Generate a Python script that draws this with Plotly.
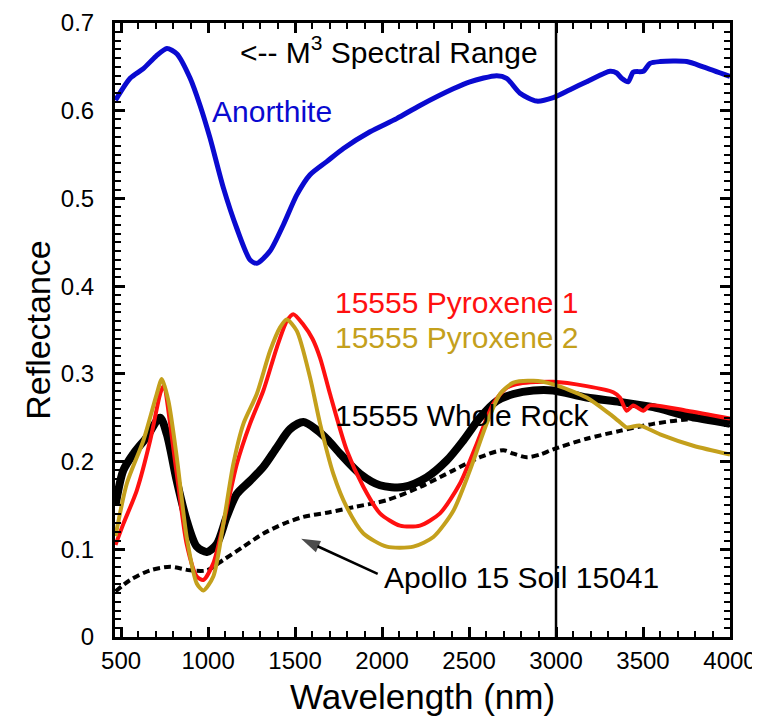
import plotly.graph_objects as go

# ---------------- data ----------------
anorthite_wl = [468, 552, 628, 700, 763, 820, 897, 954, 1011, 1088, 1165, 1241, 1280, 1356,
                1433, 1510, 1586, 1682, 1778, 1931, 2084, 2218, 2409, 2505, 2659, 2716, 2793,
                2889, 2984, 3080, 3176, 3310, 3349, 3377, 3415, 3444, 3502, 3540, 3598, 3751,
                3846, 4000]
anorthite_r = [0.612, 0.637, 0.648, 0.662, 0.671, 0.665, 0.637, 0.606, 0.569, 0.512, 0.466,
               0.430, 0.426, 0.440, 0.470, 0.504, 0.527, 0.542, 0.557, 0.576, 0.591, 0.606,
               0.625, 0.633, 0.640, 0.637, 0.620, 0.611, 0.615, 0.624, 0.633, 0.645, 0.643,
               0.637, 0.633, 0.644, 0.645, 0.654, 0.656, 0.656, 0.650, 0.639]

pyx1_wl = [468, 513, 590, 667, 724, 743, 820, 877, 935, 973, 1030, 1088, 1165, 1241, 1318,
           1395, 1452, 1490, 1548, 1600, 1644, 1701, 1797, 1893, 1988, 2103, 2218, 2333, 2448,
           2544, 2639, 2716, 2793, 2984, 3176, 3329, 3367, 3406, 3444, 3502, 3540, 3751, 4000]
pyx1_r = [0.105, 0.129, 0.167, 0.224, 0.277, 0.286, 0.186, 0.106, 0.069, 0.065, 0.084, 0.129,
          0.197, 0.243, 0.281, 0.330, 0.360, 0.368, 0.356, 0.340, 0.318, 0.277, 0.213, 0.171,
          0.141, 0.127, 0.127, 0.141, 0.175, 0.220, 0.266, 0.284, 0.289, 0.291, 0.286, 0.279,
          0.273, 0.258, 0.264, 0.258, 0.264, 0.258, 0.249]

pyx2_wl = [468, 533, 628, 705, 734, 772, 820, 877, 935, 973, 1030, 1088, 1145, 1203, 1280,
           1356, 1414, 1452, 1510, 1586, 1644, 1720, 1797, 1893, 2027, 2180, 2295, 2410,
           2505, 2601, 2678, 2755, 2870, 2984, 3176, 3310, 3367, 3406, 3483, 3598, 3789, 4000]
pyx2_r = [0.115, 0.175, 0.224, 0.277, 0.294, 0.269, 0.205, 0.114, 0.061, 0.053, 0.069, 0.129,
          0.197, 0.243, 0.277, 0.326, 0.353, 0.362, 0.349, 0.296, 0.243, 0.186, 0.148, 0.118,
          0.103, 0.103, 0.114, 0.144, 0.190, 0.243, 0.277, 0.290, 0.292, 0.288, 0.273, 0.254,
          0.245, 0.239, 0.241, 0.231, 0.218, 0.208]

rock_wl = [468, 513, 571, 648, 724, 763, 820, 877, 935, 993, 1050, 1107, 1165, 1241, 1318,
           1395, 1471, 1548, 1625, 1692, 1759, 1874, 1988, 2122, 2256, 2371, 2467, 2563,
           2659, 2755, 2870, 2984, 3176, 3367, 3559, 3751, 4000]
rock_r = [0.150, 0.190, 0.209, 0.228, 0.250, 0.231, 0.178, 0.133, 0.103, 0.097, 0.106, 0.137,
          0.163, 0.178, 0.194, 0.216, 0.237, 0.245, 0.236, 0.224, 0.209, 0.186, 0.173, 0.171,
          0.182, 0.201, 0.224, 0.250, 0.269, 0.277, 0.281, 0.281, 0.273, 0.268, 0.262, 0.252,
          0.243]

soil_wl = [468, 552, 667, 782, 897, 993, 1088, 1203, 1318, 1433, 1548, 1692, 1835, 2027,
           2218, 2410, 2563, 2697, 2755, 2831, 2908, 2984, 3176, 3367, 3559, 3751, 4000]
soil_r = [0.052, 0.065, 0.076, 0.080, 0.076, 0.076, 0.088, 0.103, 0.118, 0.129, 0.137, 0.142,
          0.148, 0.156, 0.171, 0.190, 0.205, 0.213, 0.209, 0.205, 0.208, 0.214, 0.226, 0.235,
          0.243, 0.248, 0.248]

# pointer from the soil label to the soil spectrum (tail, head)
soil_arrow_wl = [1975, 1535]
soil_arrow_r = [0.072, 0.112]

m3_limit = 3000
x_range = [465, 4000]
y_range = [0, 0.7]

BLUE = "#0a0ad0"
RED = "#ff1010"
GOLD = "#c4a01c"
FONT = "Arial, Liberation Sans, sans-serif"
ANN = 30

fig = go.Figure()

fig.add_trace(go.Scatter(x=soil_wl, y=soil_r, mode="lines",
                         line=dict(color="black", width=4, dash="7px,4px", shape="spline", smoothing=0.8)))
fig.add_trace(go.Scatter(x=rock_wl, y=rock_r, mode="lines",
                         line=dict(color="black", width=8, shape="spline", smoothing=0.8)))
fig.add_trace(go.Scatter(x=pyx1_wl, y=pyx1_r, mode="lines",
                         line=dict(color=RED, width=4, shape="spline", smoothing=0.7)))
fig.add_trace(go.Scatter(x=pyx2_wl, y=pyx2_r, mode="lines",
                         line=dict(color=GOLD, width=4, shape="spline", smoothing=0.7)))
fig.add_trace(go.Scatter(x=anorthite_wl, y=anorthite_r, mode="lines",
                         line=dict(color=BLUE, width=5, shape="spline", smoothing=0.7)))
# arrow
fig.add_trace(go.Scatter(x=soil_arrow_wl, y=soil_arrow_r, mode="lines+markers",
                         line=dict(color="black", width=2.5),
                         marker=dict(symbol="arrow", angleref="previous", size=[0, 20],
                                     color="black", line=dict(width=0))))

# M3 spectral range boundary
fig.add_shape(type="line", x0=m3_limit, x1=m3_limit, y0=y_range[0], y1=y_range[1],
              xref="x", yref="y", line=dict(color="black", width=2.5))

fig.add_annotation(x=1172, y=0.669, text="<-- M<sup>3</sup> Spectral Range", showarrow=False,
                   xanchor="left", font=dict(family=FONT, size=ANN, color="black"))
fig.add_annotation(x=1011, y=0.599, text="Anorthite", showarrow=False, xanchor="left",
                   font=dict(family=FONT, size=ANN, color=BLUE))
fig.add_annotation(x=1718, y=0.381, text="15555 Pyroxene 1", showarrow=False, xanchor="left",
                   font=dict(family=FONT, size=ANN, color=RED))
fig.add_annotation(x=1718, y=0.341, text="15555 Pyroxene 2", showarrow=False, xanchor="left",
                   font=dict(family=FONT, size=ANN, color=GOLD))
fig.add_annotation(x=1718, y=0.253, text="15555 Whole Rock", showarrow=False, xanchor="left",
                   font=dict(family=FONT, size=ANN, color="black"))
fig.add_annotation(x=2000, y=0.068, text="Apollo 15 Soil 15041", showarrow=False, xanchor="left",
                   font=dict(family=FONT, size=ANN, color="black"))

axis_common = dict(showline=True, linecolor="black", linewidth=3, mirror="allticks",
                   ticks="inside", tickcolor="black", tickwidth=3, ticklen=10,
                   showgrid=False, zeroline=False, automargin=False,
                   tickfont=dict(family=FONT, size=24, color="black"))

fig.update_xaxes(range=x_range, tick0=500, dtick=500,
                 title=dict(text="Wavelength (nm)", font=dict(family=FONT, size=35, color="black"),
                            standoff=12),
                 minor=dict(ticks="inside", dtick=100, tick0=500, ticklen=6, tickwidth=2,
                            tickcolor="black"),
                 **axis_common)
fig.update_yaxes(range=y_range, tick0=0, dtick=0.1, ticklabelstandoff=13,
                 title=dict(text="Reflectance", font=dict(family=FONT, size=34, color="black"),
                            standoff=0),
                 minor=dict(ticks="inside", dtick=0.01, ticklen=6, tickwidth=2,
                            tickcolor="black"),
                 **axis_common)

# the page body adds an 8px margin, so the figure is 8px smaller and offset accordingly
fig.update_layout(width=752, height=713, showlegend=False,
                  plot_bgcolor="white", paper_bgcolor="white",
                  margin=dict(l=107, r=30, t=15, b=84),
                  font=dict(family=FONT, color="black"))

fig.write_html("out.html")
